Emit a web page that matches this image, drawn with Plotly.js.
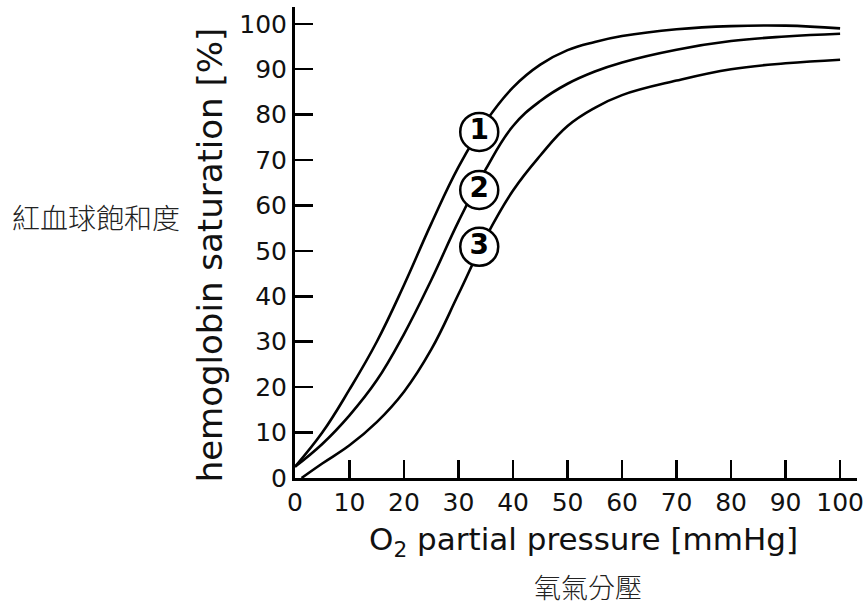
<!DOCTYPE html>
<html>
<head>
<meta charset="utf-8">
<script src="https://cdn.plot.ly/plotly-3.0.1.min.js"></script>
<style>html,body{margin:0;padding:0;background:#fff;}#chart{width:866px;height:605px;}</style>
</head>
<body>
<div id="chart"></div>
<script>
// O2 partial pressure [mmHg] vs hemoglobin saturation [%]
const curve1X = [0, 5, 10, 15, 20, 25, 30, 35, 40, 45, 50, 55, 60, 70, 80, 90, 100];
const curve1Y = [2.5, 10, 19.5, 30, 42.5, 56, 68.5, 78.5, 86, 91, 94.2, 96, 97.3, 98.8, 99.5, 99.6, 99.0];
const curve2X = [0, 5, 10, 15, 20, 25, 30, 35, 40, 45, 50, 55, 60, 70, 80, 90, 100];
const curve2Y = [2.5, 7.5, 13.8, 21.5, 31.7, 43.6, 56.5, 68, 77.5, 83, 86.8, 89.5, 91.5, 94.3, 96.2, 97.2, 97.8];
const curve3X = [1.2, 5, 10, 15, 20, 25, 30, 35, 40, 45, 50, 55, 60, 70, 80, 90, 100];
const curve3Y = [0, 3.2, 7.2, 12.3, 19, 28.3, 40.5, 53, 63.3, 71, 77.5, 81.5, 84.3, 87.5, 90, 91.3, 92.1];
const curveLabels = ['1', '2', '3'];
const labelX = [33.8, 33.8, 33.8];
const labelY = [76.2, 63.4, 50.9];
const xTicks = [0, 10, 20, 30, 40, 50, 60, 70, 80, 90, 100];
const yTicks = [0, 10, 20, 30, 40, 50, 60, 70, 80, 90, 100];

const lineStyle = {color: '#000', width: 2.6, shape: 'spline', smoothing: 1.2};
const traces = [
  {x: curve1X, y: curve1Y, mode: 'lines', line: lineStyle, hoverinfo: 'skip'},
  {x: curve2X, y: curve2Y, mode: 'lines', line: lineStyle, hoverinfo: 'skip'},
  {x: curve3X, y: curve3Y, mode: 'lines', line: lineStyle, hoverinfo: 'skip'},
  {x: labelX, y: labelY, text: curveLabels, mode: 'markers+text', textposition: 'middle center',
   marker: {size: 38, color: '#fff', line: {color: '#000', width: 2.5}},
   textfont: {family: 'DejaVu Sans', size: 28, color: '#000', weight: 'bold'}, hoverinfo: 'skip'}
];

const tickFont = {family: 'DejaVu Sans', size: 25, color: '#111'};
const layout = {
  width: 866, height: 605,
  margin: {l: 295, r: 9, t: 7, b: 127},
  paper_bgcolor: '#fff', plot_bgcolor: '#fff',
  showlegend: false,
  xaxis: {range: [0, 103.1], tickvals: xTicks, ticktext: xTicks.map(String), ticks: 'inside', ticklen: 18, tickwidth: 2.5,
          tickcolor: '#000', showline: true, linecolor: '#000', linewidth: 3, showgrid: false, zeroline: false,
          tickfont: tickFont, fixedrange: true},
  yaxis: {range: [0, 103.7], tickvals: yTicks, ticktext: yTicks.map(String), ticks: 'inside', ticklen: 18, tickwidth: 2.5,
          tickcolor: '#000', showline: true, linecolor: '#000', linewidth: 3, showgrid: false, zeroline: false,
          tickfont: tickFont, fixedrange: true},
  annotations: [
    {text: 'hemoglobin saturation [%]', xref: 'paper', yref: 'paper', x: -0.151, y: 0.473, textangle: -90,
     showarrow: false, xanchor: 'center', yanchor: 'middle', font: {family: 'DejaVu Sans', size: 34, color: '#111'}},
    {text: 'O<sub>2</sub> partial pressure [mmHg]', xref: 'paper', yref: 'paper', x: 0.514, y: -0.134,
     showarrow: false, xanchor: 'center', yanchor: 'middle', font: {family: 'DejaVu Sans', size: 31, color: '#111'}},
    {text: '紅血球飽和度', xref: 'paper', yref: 'paper', x: -0.354, y: 0.554, borderpad: 0,
     showarrow: false, xanchor: 'center', yanchor: 'middle', font: {family: 'Noto Sans CJK TC', size: 28, color: '#222', weight: 300}},
    {text: '氧氣分壓', xref: 'paper', yref: 'paper', x: 0.521, y: -0.2293, borderpad: 0,
     showarrow: false, xanchor: 'center', yanchor: 'middle', font: {family: 'Noto Sans CJK TC', size: 27, color: '#222', weight: 300}}
  ]
};
Plotly.newPlot('chart', traces, layout, {displayModeBar: false, staticPlot: true});
</script>
</body>
</html>
